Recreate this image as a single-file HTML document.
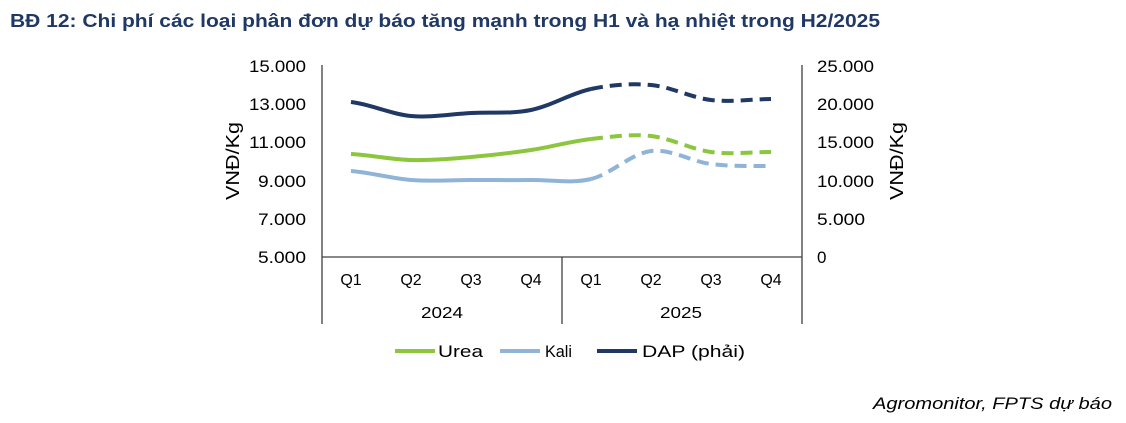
<!DOCTYPE html>
<html><head><meta charset="utf-8"><style>
body{margin:0;background:#fff;width:1126px;height:418px;overflow:hidden;font-family:"Liberation Sans",Arial,sans-serif}
</style></head><body>
<svg width="1126" height="418" xmlns="http://www.w3.org/2000/svg" font-family="Liberation Sans, Arial, sans-serif">
<text x="10" y="27" font-size="18" font-weight="bold" fill="#1f3864" textLength="870" lengthAdjust="spacingAndGlyphs">BĐ 12: Chi phí các loại phân đơn dự báo tăng mạnh trong H1 và hạ nhiệt trong H2/2025</text>
<g font-size="17" fill="#000">
<g text-anchor="end">
<text x="306" y="72" textLength="57" lengthAdjust="spacingAndGlyphs">15.000</text>
<text x="306" y="110" textLength="57" lengthAdjust="spacingAndGlyphs">13.000</text>
<text x="306" y="148" textLength="57" lengthAdjust="spacingAndGlyphs">11.000</text>
<text x="306" y="187" textLength="48" lengthAdjust="spacingAndGlyphs">9.000</text>
<text x="306" y="225" textLength="48" lengthAdjust="spacingAndGlyphs">7.000</text>
<text x="306" y="263" textLength="48" lengthAdjust="spacingAndGlyphs">5.000</text>
</g>
<text x="817" y="72" textLength="57" lengthAdjust="spacingAndGlyphs">25.000</text>
<text x="817" y="110" textLength="57" lengthAdjust="spacingAndGlyphs">20.000</text>
<text x="817" y="148" textLength="57" lengthAdjust="spacingAndGlyphs">15.000</text>
<text x="817" y="187" textLength="57" lengthAdjust="spacingAndGlyphs">10.000</text>
<text x="817" y="225" textLength="48" lengthAdjust="spacingAndGlyphs">5.000</text>
<text x="817" y="263">0</text>
<text transform="translate(239,161) rotate(-90)" text-anchor="middle" font-size="18" textLength="78" lengthAdjust="spacingAndGlyphs">VNĐ/Kg</text>
<text transform="translate(903,161) rotate(-90)" text-anchor="middle" font-size="18" textLength="78" lengthAdjust="spacingAndGlyphs">VNĐ/Kg</text>
<g text-anchor="middle" font-size="16">
<text x="351" y="285">Q1</text><text x="411" y="285">Q2</text><text x="471" y="285">Q3</text><text x="531" y="285">Q4</text>
<text x="591" y="285">Q1</text><text x="651" y="285">Q2</text><text x="711" y="285">Q3</text><text x="771" y="285">Q4</text>
<text x="442" y="318" textLength="42" lengthAdjust="spacingAndGlyphs">2024</text><text x="681" y="318" textLength="42" lengthAdjust="spacingAndGlyphs">2025</text>
</g>
</g>
<g stroke="#404040" stroke-width="1.3">
<line x1="322" y1="65" x2="322" y2="324"/>
<line x1="802" y1="65" x2="802" y2="324"/>
<line x1="562" y1="257" x2="562" y2="324"/>
<line x1="322" y1="257" x2="802" y2="257"/>
</g>
<g fill="none" stroke-width="4" stroke-linecap="butt">
<path stroke="#8fb4d8" d="M351,171 C371,172.5 391,178.5 411,180 C431,181.5 451,180 471,180 C491,180 511,180.2 531,180 C551,179.8 571,183.8 591,179"/>
<path stroke="#8fb4d8" stroke-dasharray="12,7" d="M591,179 C611,174.2 631,153.5 651,151 C671,148.5 691,161.5 711,164 C731,166.5 751,166 771,166"/>
<path stroke="#8cc63f" d="M351,154 C371,155 391,159.5 411,160 C431,160.5 451,158.7 471,157 C491,155.3 511,153 531,150 C551,147 571,141.3 591,139"/>
<path stroke="#8cc63f" stroke-dasharray="12,7" d="M591,139 C611,136.7 631,133.8 651,136 C671,138.2 691,149.3 711,152 C731,154.7 751,152 771,152"/>
<path stroke="#1f3864" d="M351,102 C371,104.3 391,114.2 411,116 C431,117.8 451,114 471,113 C491,112 511,114 531,110 C551,106 571,93.2 591,89"/>
<path stroke="#1f3864" stroke-dasharray="12,7" d="M591,89 C611,84.8 631,83.2 651,85 C671,86.8 691,97.7 711,100 C731,102.3 751,99.2 771,99"/>
</g>
<g font-size="17" fill="#000">
<line x1="395" y1="351" x2="435" y2="351" stroke="#8cc63f" stroke-width="4"/><text x="438" y="357" textLength="45" lengthAdjust="spacingAndGlyphs">Urea</text>
<line x1="500" y1="351" x2="540" y2="351" stroke="#8fb4d8" stroke-width="4"/><text x="545" y="357" textLength="27" lengthAdjust="spacingAndGlyphs">Kali</text>
<line x1="597" y1="351" x2="637" y2="351" stroke="#1f3864" stroke-width="4"/><text x="642" y="357" textLength="103" lengthAdjust="spacingAndGlyphs">DAP (phải)</text>
</g>
<text x="1112" y="409" text-anchor="end" font-size="17" font-style="italic" fill="#000" textLength="239" lengthAdjust="spacingAndGlyphs">Agromonitor, FPTS dự báo</text>
</svg>
</body></html>
